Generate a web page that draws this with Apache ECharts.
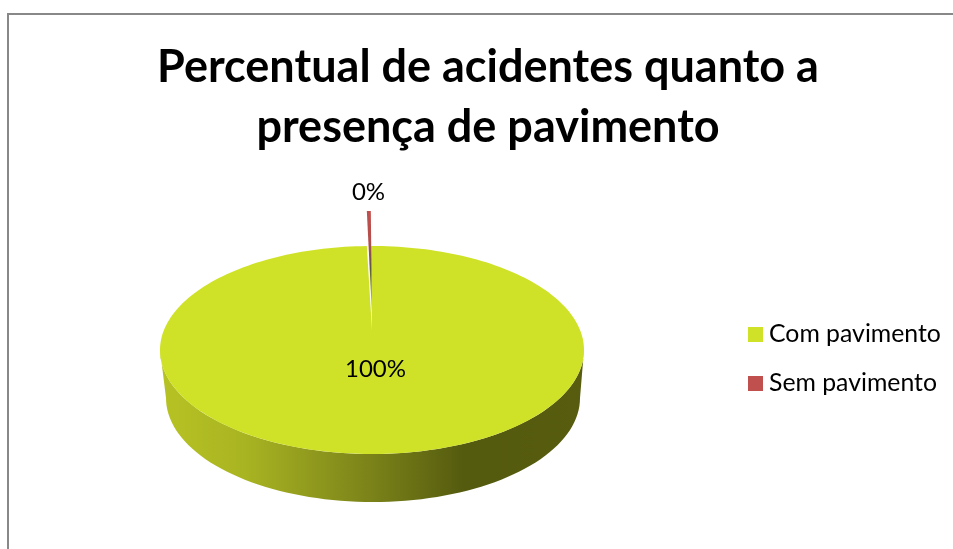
<!DOCTYPE html>
<html lang="pt">
<head>
    <meta charset="UTF-8">
    <title>Percentual de acidentes</title>
    <script src="https://cdn.jsdelivr.net/npm/echarts@6/dist/echarts.min.js"></script>
    <style>
        html,body{margin:0;padding:0;background:#fff}
        #my{width:953px;height:549px}
    </style>
</head>
<body>
<div id="my"></div>
<script>
    var categories=['Com pavimento','Sem pavimento']
    var values=[99.7,0.3]
    var colors=['#cfe228','#c0504d']

    var total=0
    for (var i=0;i<values.length;i++){
        total+=values[i]
    }

    // geometria da pizza "3D"
    var cx=372,cy=350,rx=212,ry=104
    var bottomCx=373,bottomCy=398,bottomRx=207,bottomRy=104
    var explode=35 //a fatia pequena sai para cima
    var startDeg=-0.32

    function pt(x,y,a,w,h){
        //a=0 no topo, sentido horario
        return [x+w*Math.sin(a),y-h*Math.cos(a)]
    }

    function arc(x,y,w,h,a0,a1,n){
        var pts=[]
        for (var k=0;k<=n;k++){
            pts.push(pt(x,y,a0+(a1-a0)*k/n,w,h))
        }
        return pts
    }

    function sliceAngles(idx){
        var sum=0
        for (var j=0;j<idx;j++){
            sum+=values[j]
        }
        var s=startDeg*Math.PI/180
        return [s+sum/total*Math.PI*2,s+(sum+values[idx])/total*Math.PI*2]
    }

    function renderSlice(params,api){
        var idx=params.seriesIndex
        var ang=sliceAngles(idx)
        var pct=Math.round(values[idx]/total*100)+'%'
        var children=[]
        if (idx===0){
            //parede lateral: so a metade da frente aparece
            var front=arc(cx,cy,rx,ry,Math.PI/2,Math.PI*1.5,80)
            var back=arc(bottomCx,bottomCy,bottomRx,bottomRy,Math.PI*1.5,Math.PI/2,80)
            children.push({
                type:'polygon',
                shape:{points:front.concat(back)},
                style:{fill:{
                    type:'linear',x:0,y:0,x2:1,y2:0,
                    colorStops:[
                        {offset:0,color:'#b7c323'},
                        {offset:0.2,color:'#a9b422'},
                        {offset:0.5,color:'#7a8219'},
                        {offset:0.72,color:'#545a0e'},
                        {offset:1,color:'#575c0e'}
                    ]
                }}
            })
            var top=arc(cx,cy,rx,ry,ang[0],ang[1],240)
            top.push([cx,cy-20])
            children.push({
                type:'polygon',
                shape:{points:top},
                style:{fill:colors[idx]}
            })
            children.push({
                type:'text',
                style:{x:375.5,y:369,text:pct,fill:'#000',font:'24px Lato',align:'center',verticalAlign:'middle'}
            })
        }else{
            var wedge=arc(cx,cy-explode,rx,ry,ang[0],ang[1],6)
            wedge.push([cx,cy-explode])
            children.push({
                type:'polygon',
                shape:{points:wedge},
                style:{fill:{
                    type:'linear',x:0,y:0,x2:0,y2:1,
                    colorStops:[
                        {offset:0,color:'#c0504d'},
                        {offset:0.3,color:'#b24e4c'},
                        {offset:0.55,color:'#5c5a40'},
                        {offset:0.8,color:'#8c9a30'},
                        {offset:1,color:'#dfe98a'}
                    ]
                }}
            })
            children.push({
                type:'text',
                style:{x:368.5,y:192,text:pct,fill:'#000',font:'24px Lato',align:'center',verticalAlign:'middle'}
            })
        }
        return {type:'group',children:children}
    }

    var mCharts=echarts.init(document.getElementById('my'))
    var seriesList=[]
    for (var n=0;n<categories.length;n++){
        seriesList.push({
            type:'custom',
            name:categories[n],
            coordinateSystem:'none',
            data:[values[n]],
            itemStyle:{color:colors[n]},
            renderItem:renderSlice,
            silent:true
        })
    }
    var option={
        animation:false,
        title:{
            text:'Percentual de acidentes quanto a\npresença de pavimento',
            left:483,
            top:32,
            textAlign:'center',
            textStyle:{fontFamily:'Lato',fontWeight:'bold',fontSize:45,lineHeight:60,color:'#000'}
        },
        legend:{
            orient:'vertical',
            left:743,
            top:317,
            itemWidth:15,
            itemHeight:15,
            itemGap:24,
            icon:'rect',
            data:categories,
            textStyle:{fontFamily:'Lato',fontSize:24.8,lineHeight:24,color:'#000',padding:[0,0,0,1]}
        },
        graphic:[{
            type:'polyline',
            shape:{points:[[953,14],[8,14],[8,549]]},
            style:{stroke:'#888',lineWidth:2,fill:null}
        }],
        series:seriesList
    }
    mCharts.setOption(option)
</script>
</body>
</html>
